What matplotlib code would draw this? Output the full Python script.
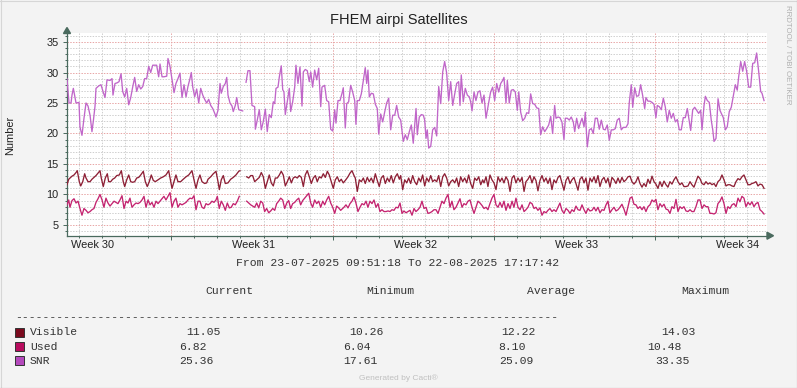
import numpy as np
import matplotlib
matplotlib.use('Agg')
import matplotlib.pyplot as plt
from matplotlib.ticker import MultipleLocator, FixedLocator, NullFormatter
from matplotlib.patches import Rectangle, Polygon
from matplotlib.lines import Line2D
from matplotlib.transforms import blended_transform_factory


# hours since 23-07-2025 09:51:18
snr_hours = [
    0, 1.0, 2.1, 4.2, 5.2, 6.6, 8.3, 9.4, 12.5, 13.5,
    15.6, 17.7, 19.8, 21.9, 24.0, 26.0, 27.4, 29.2, 30.2, 33.0,
    35.4, 37.5, 39.6, 41.7, 44.8, 46.9, 47.9, 50.0, 52.1, 54.2,
    56.3, 58.0, 60.1, 62.2, 64.3, 66.4, 68.4, 70.5, 72.6, 74.7,
    76.8, 78.9, 80.9, 83.0, 85.1, 87.2, 89.3, 91.4, 93.4, 95.5,
    96.9, 99.0, 101.0, 103.9, 105.2, 107.3, 109.4, 111.5, 113.5, 115.6,
    117.7, 119.8, 121.9, 124.0, 126.0, 128.1, 129.5, 130.9, 133.0, 135.1,
    137.2, 139.3, 141.4, 143.4, 145.5, 147.6, 149.7, 151.8, 153.9, 155.2,
    157.3, 159.4, 160.7, 162.8, 164.9, 166.4, 167.7, 169.8, 171.9, 173.2,
    175.3, 176.8, 178.9, 183.0, 184.8,
    186.5, 188.5, 190.6, 192.7, 195.5, 196.2, 198.2, 200.3, 202.4, 204.5,
    206.6, 208.6, 210.7, 212.8, 214.9, 216.4, 217.7, 219.8, 221.2, 223.2,
    224.7, 226.0, 227.4, 229.5, 231.6, 233.0, 235.1, 237.2, 238.5, 240.6,
    242.7, 244.8, 246.2, 248.2, 250.3, 252.4, 253.9, 255.9, 258.0, 260.1,
    262.2, 264.3, 265.6, 268.4, 270.5, 272.6, 274.7, 276.8, 278.9, 280.2,
    282.3, 284.4, 286.5, 287.8, 289.9, 291.4, 293.4, 295.5, 297.6, 299.7,
    301.0, 302.4, 304.5, 306.6, 308.7, 310.7, 312.2, 313.5, 314.9, 317.0,
    319.1, 321.2, 323.2, 324.7, 326.8, 328.9, 330.9, 333.0, 335.1, 337.2,
    339.3, 341.4, 343.4, 345.5, 347.6, 349.0, 350.3, 352.4, 354.5, 356.6,
    358.7, 360.7, 362.2, 363.6, 364.9, 367.0, 369.1, 371.2, 372.6, 374.0,
    375.3, 376.8, 378.9, 380.9, 383.0, 385.1, 387.2, 389.3, 391.4, 393.4,
    395.5, 397.6, 399.7, 401.8, 403.9, 405.9, 408.0, 409.4, 410.7, 412.8,
    414.9, 417.0, 419.1, 420.5, 421.9, 424.0, 426.0, 428.1, 430.2, 432.3,
    434.4, 436.5, 439.2, 441.3, 443.4, 445.5, 447.6, 449.7, 451.8, 453.8,
    455.2, 457.3, 458.7, 460.7, 462.8, 464.9, 467.0, 469.1, 470.6, 472.6,
    474.7, 476.8, 478.9, 481.0, 483.0, 485.1, 487.2, 489.3, 491.4, 493.4,
    495.5, 497.6, 499.7, 501.8, 503.9, 505.9, 508.0, 509.4, 511.5, 513.5,
    515.6, 517.7, 519.1, 521.2, 523.2, 525.3, 527.4, 528.9, 530.9, 533.0,
    535.1, 536.5, 538.6, 539.9, 542.0, 544.1, 546.2, 548.2, 550.3, 552.4,
    554.5, 556.6, 558.7, 560.7, 562.8, 564.9, 567.0, 569.1, 571.2, 573.2,
    575.3, 577.4, 579.5, 582.3, 584.4, 585.7, 587.8, 589.3, 591.4, 593.4,
    595.5, 597.6, 599.7, 601.8, 603.1, 605.2, 607.3, 609.4, 611.5, 613.5,
    614.9, 617.0, 619.1, 621.2, 623.3, 625.3, 627.4, 629.5, 631.6, 633.7,
    635.8, 637.8, 639.9, 642.0, 644.1, 646.2, 648.2, 649.7, 651.8, 653.9,
    656.0, 658.0, 660.1, 661.5, 663.6, 665.0, 667.0, 669.1, 671.2, 672.7,
    674.0, 676.1, 678.2, 680.2, 681.6, 683.7, 685.8, 687.8, 689.9, 692.0,
    694.1, 696.2, 698.2, 699.7, 701.8, 703.9, 705.9, 708.0, 710.1, 712.2,
    714.3, 716.4, 718.4, 720.5, 722.6, 724.0, 726.1]
snr_values = [
    29.0, 27.1, 25.0, 25.0, 26.3, 27.4, 26.0, 25.0, 25.1, 21.1,
    19.7, 22.5, 25.0, 24.5, 23.0, 20.3, 22.0, 24.5, 27.4, 27.8,
    28.0, 26.9, 25.9, 28.8, 28.7, 29.0, 26.3, 28.2, 28.3, 28.5,
    29.8, 26.9, 26.0, 27.4, 24.7, 25.9, 27.6, 29.2, 26.9, 28.0,
    27.3, 27.7, 29.0, 29.0, 31.0, 30.0, 31.2, 31.2, 31.2, 29.3,
    31.4, 29.3, 29.3, 29.4, 32.3, 31.0, 28.8, 26.7, 28.2, 29.0,
    29.9, 25.9, 28.0, 26.0, 27.7, 29.0, 30.0, 27.7, 26.0, 27.3,
    25.0, 27.4, 26.3, 25.6, 25.0, 25.6, 24.6, 24.1, 23.3, 22.7,
    23.8, 28.2, 26.6, 27.7, 28.2, 29.2, 26.3, 25.0, 24.5, 23.6,
    24.6, 25.9, 23.9, 23.7, np.nan,
    28.4, 30.3, 30.3, 24.6, 24.4, 20.7, 22.2, 23.9, 20.6, 22.0,
    24.0, 20.3, 23.1, 22.6, 25.2, 24.9, 27.4, 27.6, 29.3, 31.1,
    27.2, 26.8, 23.1, 25.2, 27.4, 23.6, 25.2, 27.6, 31.2, 28.2,
    30.9, 24.5, 30.1, 30.5, 30.3, 28.5, 30.1, 27.6, 30.4, 28.8,
    30.7, 24.4, 27.6, 27.9, 25.4, 25.2, 20.7, 20.4, 23.9, 21.7,
    25.4, 25.4, 26.6, 27.5, 20.9, 24.9, 25.2, 27.9, 26.8, 25.4,
    21.5, 25.4, 25.4, 26.5, 28.7, 30.8, 28.2, 30.4, 26.0, 26.6,
    26.5, 24.8, 24.1, 19.9, 23.2, 21.9, 23.5, 25.0, 25.8, 20.6,
    23.0, 23.0, 24.6, 22.7, 22.2, 20.4, 18.7, 19.8, 19.0, 20.3,
    21.4, 18.4, 21.4, 24.1, 19.8, 22.7, 23.1, 23.0, 22.2, 19.2,
    20.6, 17.6, 17.9, 20.6, 21.0, 19.6, 27.7, 24.9, 30.1, 31.8,
    29.9, 25.4, 28.5, 24.6, 26.5, 28.2, 28.5, 24.6, 29.6, 25.2,
    27.4, 26.3, 26.0, 25.2, 23.7, 26.8, 25.4, 26.8, 27.0, 25.0,
    26.3, 22.5, 25.0, 26.8, 27.6, 25.4, 28.2, 26.8, 28.2, 28.7,
    29.2, 25.0, 28.7, 25.0, 27.1, 27.2, 26.8, 23.8, 26.8, 23.5,
    22.1, 22.5, 23.4, 23.3, 26.5, 24.9, 24.8, 24.2, 24.1, 19.8,
    21.1, 20.3, 20.8, 21.4, 22.8, 20.0, 24.6, 22.5, 22.7, 22.6,
    21.9, 19.0, 22.5, 22.5, 22.2, 22.7, 21.9, 20.3, 22.5, 20.8,
    21.9, 22.5, 21.1, 23.5, 17.8, 20.6, 20.8, 20.0, 22.5, 22.5,
    20.7, 22.2, 20.7, 20.6, 21.4, 18.9, 20.6, 20.6, 20.8, 22.2,
    22.5, 20.6, 21.0, 21.0, 21.6, 25.0, 28.0, 24.3, 27.5, 26.1,
    26.2, 28.0, 26.2, 24.1, 25.9, 25.3, 25.3, 25.1, 24.8, 22.6,
    24.6, 24.4, 23.9, 25.8, 24.3, 21.9, 23.8, 22.5, 23.3, 21.9,
    22.3, 20.6, 20.6, 22.6, 22.6, 24.1, 22.1, 20.5, 23.9, 24.3,
    23.8, 23.3, 23.8, 20.6, 24.6, 26.1, 25.4, 25.1, 22.1, 20.6,
    18.7, 19.2, 25.7, 23.8, 23.3, 22.6, 20.6, 21.1, 23.6, 24.3,
    26.2, 28.0, 27.1, 29.3, 31.8, 30.2, 31.8, 30.2, 27.6, 27.6,
    31.5, 31.6, 33.2, 30.2, 26.9, 26.6, 25.4]

visible_hours = [
    0, 1.8, 5.2, 7.3, 9.4, 10.7, 12.8, 14.3, 16.4, 18.4,
    19.8, 21.9, 24.0, 26.0, 28.1, 30.2, 32.3, 34.4, 35.7, 37.8,
    39.9, 42.0, 43.4, 45.5, 47.6, 49.7, 51.8, 54.5, 56.6, 58.6,
    60.1, 62.2, 64.3, 66.4, 68.4, 70.5, 72.6, 74.7, 76.8, 79.5,
    81.6, 83.6, 85.7, 87.8, 89.9, 92.0, 94.8, 97.6, 100.3, 103.1,
    105.9, 108.0, 109.4, 111.5, 113.5, 115.6, 118.4, 121.1, 124.0, 126.8,
    130.2, 132.3, 134.4, 136.5, 138.5, 140.6, 143.4, 145.5, 146.9, 149.7,
    152.4, 155.2, 157.3, 158.7, 160.7, 162.8, 164.9, 167.7, 170.5, 173.2,
    176.0, 178.9, 180.2, 183.5,
    187.2, 189.3, 191.4, 193.4, 195.5, 197.6, 200.3, 202.4, 204.5, 206.6,
    208.6, 210.7, 212.8, 214.9, 217.0, 219.1, 221.2, 223.2, 225.3, 227.4,
    229.5, 231.6, 233.7, 235.7, 237.8, 239.9, 242.0, 244.1, 246.2, 248.2,
    250.3, 252.4, 254.5, 256.6, 258.7, 260.7, 262.8, 264.9, 267.0, 269.1,
    271.2, 273.2, 275.3, 277.4, 279.5, 281.6, 283.6, 285.7, 287.8, 289.9,
    292.7, 294.8, 296.9, 299.0, 300.3, 302.4, 304.5, 306.6, 308.7, 310.7,
    312.8, 314.9, 317.0, 319.1, 321.2, 323.2, 325.3, 327.4, 329.5, 331.6,
    333.7, 335.7, 337.8, 339.9, 342.0, 344.1, 346.2, 347.6, 349.7, 351.8,
    353.9, 355.9, 358.0, 360.1, 362.2, 364.3, 366.4, 368.4, 370.5, 372.6,
    374.7, 376.8, 378.9, 380.9, 383.0, 385.1, 387.2, 389.3, 391.4, 393.4,
    395.5, 397.6, 399.7, 401.8, 403.9, 405.9, 408.0, 410.1, 412.2, 414.3,
    416.4, 418.4, 420.5, 422.6, 424.7, 426.8, 428.9, 431.0, 433.0, 434.4,
    436.5, 438.5, 440.6, 442.7, 444.8, 446.9, 449.0, 451.1, 453.1, 455.2,
    457.3, 459.4, 461.5, 463.6, 465.6, 467.7, 469.8, 471.9, 474.0, 476.1,
    478.1, 480.2, 482.3, 484.4, 486.5, 488.5, 490.6, 492.7, 494.8, 496.9,
    499.0, 501.0, 503.1, 505.2, 507.3, 509.4, 511.5, 513.5, 515.6, 517.7,
    519.8, 521.9, 524.0, 526.0, 528.1, 530.2, 532.3, 534.4, 536.5, 538.6,
    540.6, 542.7, 544.8, 546.9, 549.0, 551.0, 553.1, 555.2, 557.3, 559.4,
    561.5, 563.5, 565.6, 567.7, 569.8, 571.9, 574.0, 576.0, 578.1, 580.2,
    582.3, 584.4, 586.5, 588.5, 590.6, 592.7, 594.8, 596.9, 599.0, 601.0,
    603.1, 605.2, 607.3, 609.4, 611.5, 613.5, 615.6, 617.7, 619.8, 621.9,
    624.0, 626.0, 628.1, 630.2, 632.3, 634.4, 636.5, 638.5, 640.6, 642.7,
    644.8, 646.9, 649.0, 651.0, 653.1, 655.2, 657.3, 659.4, 661.5, 663.6,
    665.6, 667.7, 669.8, 671.9, 674.0, 676.0, 678.1, 680.2, 682.3, 684.4,
    686.5, 688.5, 690.6, 692.7, 694.8, 696.9, 699.0, 701.0, 703.1, 705.2,
    707.3, 709.4, 711.5, 713.5, 715.6, 717.7, 719.8, 721.9, 724.0, 726.1]
visible_values = [
    11.6, 12.5, 13.0, 13.2, 13.6, 13.9, 12.1, 11.4, 12.1, 13.4,
    12.7, 12.1, 12.1, 12.5, 12.8, 13.1, 13.5, 13.9, 12.7, 11.3,
    12.7, 13.4, 12.1, 12.1, 12.5, 12.7, 13.1, 13.2, 13.9, 12.1,
    11.3, 12.4, 13.2, 12.1, 12.0, 12.1, 12.7, 12.8, 13.2, 13.8,
    12.1, 11.3, 12.1, 13.2, 12.3, 12.1, 12.4, 12.7, 12.9, 13.2,
    13.9, 12.1, 11.0, 12.1, 13.2, 12.1, 12.1, 12.5, 12.9, 13.2,
    13.9, 12.4, 11.0, 12.4, 13.2, 12.1, 11.8, 11.9, 12.5, 12.9,
    13.4, 13.8, 12.1, 10.8, 12.4, 13.1, 11.8, 11.9, 12.5, 12.8,
    13.2, 13.8, 13.9, np.nan,
    12.9, 12.7, 13.1, 13.1, 12.1, 12.4, 12.8, 13.6, 12.9, 11.0,
    12.1, 13.2, 11.9, 11.4, 12.7, 12.7, 13.2, 13.8, 13.2, 11.4,
    12.1, 12.9, 11.9, 12.7, 12.9, 12.7, 13.1, 12.8, 11.3, 13.2,
    13.9, 12.9, 11.8, 12.7, 13.1, 12.1, 12.9, 12.7, 13.4, 12.8,
    13.8, 13.2, 12.1, 11.0, 12.4, 12.9, 12.1, 12.5, 11.9, 12.3,
    12.9, 13.5, 13.9, 13.1, 12.7, 10.5, 12.4, 12.1, 12.7, 11.8,
    12.8, 12.1, 12.7, 11.9, 13.4, 12.3, 11.3, 12.7, 13.1, 11.8,
    12.7, 12.1, 13.1, 11.9, 12.9, 13.4, 12.5, 13.1, 10.8, 12.4,
    11.9, 12.7, 11.8, 13.1, 12.1, 11.6, 12.7, 12.1, 13.2, 11.4,
    12.7, 12.1, 13.1, 12.1, 12.4, 12.1, 13.1, 11.3, 12.9, 13.4,
    12.7, 11.4, 12.1, 12.4, 11.9, 12.7, 11.3, 12.9, 12.1, 12.7,
    11.9, 13.2, 11.8, 11.0, 12.7, 12.3, 12.9, 11.6, 12.4, 11.9,
    12.9, 11.3, 13.2, 12.4, 11.9, 10.8, 12.9, 12.1, 12.7, 11.9,
    12.9, 12.3, 10.5, 12.7, 13.1, 11.9, 12.7, 12.1, 12.8, 10.5,
    12.1, 12.5, 13.1, 11.9, 12.9, 12.3, 10.6, 12.3, 13.1, 12.1,
    12.7, 11.8, 12.7, 10.8, 12.4, 11.9, 12.8, 13.1, 11.9, 10.7,
    12.3, 12.9, 11.8, 12.4, 12.8, 11.8, 10.7, 12.5, 12.9, 11.9,
    12.7, 10.7, 12.7, 12.1, 12.9, 11.9, 13.1, 11.3, 12.4, 12.8,
    11.9, 12.7, 11.2, 12.8, 12.4, 11.8, 12.7, 11.9, 12.8, 12.1,
    12.4, 12.9, 13.0, 12.1, 11.7, 12.1, 12.9, 11.8, 11.2, 11.8,
    11.3, 12.5, 11.8, 13.0, 12.1, 11.7, 11.0, 12.1, 11.3, 12.2,
    11.6, 11.2, 12.1, 11.7, 12.4, 12.9, 12.1, 11.6, 11.9, 11.3,
    11.3, 11.4, 12.1, 11.6, 11.2, 12.1, 13.0, 12.6, 11.8, 11.6,
    12.1, 11.7, 11.9, 11.6, 11.8, 11.3, 12.1, 12.4, 13.2, 12.4,
    11.4, 11.6, 11.6, 11.4, 11.3, 12.1, 12.6, 12.4, 12.9, 13.2,
    12.4, 11.6, 11.6, 11.8, 11.9, 12.1, 11.4, 11.7, 11.6, 11.0]

used_hours = [
    0, 1.8, 3.1, 5.2, 7.3, 9.4, 11.5, 13.5, 15.6, 17.7,
    19.8, 21.9, 24.0, 26.0, 28.1, 30.2, 32.3, 34.4, 36.5, 38.5,
    40.6, 42.7, 44.8, 46.9, 49.0, 51.0, 53.1, 55.2, 57.3, 59.4,
    61.5, 63.5, 65.6, 67.7, 69.8, 71.9, 74.0, 76.0, 78.1, 80.2,
    82.3, 84.4, 86.5, 88.5, 90.6, 92.7, 94.8, 96.9, 99.0, 101.0,
    103.1, 105.2, 107.3, 109.4, 111.5, 113.5, 115.6, 117.7, 119.8, 121.9,
    124.0, 126.0, 128.1, 130.2, 132.3, 134.4, 136.5, 138.5, 140.6, 142.7,
    144.8, 146.9, 149.0, 151.0, 153.1, 155.2, 156.6, 158.6, 160.7, 162.8,
    164.9, 167.0, 169.1, 171.1, 173.2, 175.3, 177.4, 179.5, 183.5,
    187.2, 189.3, 191.4, 193.4, 195.5, 197.6, 199.7, 201.8, 203.9, 205.9,
    208.0, 210.1, 212.2, 214.3, 216.4, 218.4, 220.5, 222.6, 224.7, 226.8,
    228.9, 230.9, 233.0, 235.1, 237.2, 239.3, 241.4, 243.4, 245.5, 247.6,
    249.7, 251.8, 253.9, 255.9, 258.0, 260.1, 262.2, 264.3, 266.4, 268.4,
    270.5, 272.6, 274.7, 276.8, 278.9, 280.9, 283.0, 285.1, 287.2, 288.5,
    290.6, 292.7, 294.8, 296.9, 299.0, 301.0, 303.1, 305.2, 307.3, 309.4,
    311.5, 313.5, 315.6, 317.7, 319.8, 321.9, 324.0, 326.0, 328.1, 330.2,
    332.3, 334.4, 336.5, 338.5, 340.6, 342.7, 344.8, 346.9, 349.0, 351.0,
    353.1, 355.2, 357.3, 359.4, 361.5, 363.5, 365.6, 367.7, 369.8, 371.9,
    374.0, 376.0, 378.1, 380.2, 382.3, 384.4, 386.5, 388.5, 390.6, 392.7,
    394.8, 396.9, 399.0, 401.0, 403.1, 405.2, 407.3, 409.4, 411.5, 413.5,
    415.6, 417.7, 419.8, 421.9, 424.0, 426.0, 428.1, 430.2, 432.3, 434.4,
    436.5, 438.5, 440.6, 442.7, 444.8, 446.9, 449.0, 451.1, 453.1, 455.2,
    457.3, 459.4, 461.5, 463.6, 465.6, 467.7, 469.8, 471.9, 474.0, 476.1,
    478.1, 480.2, 482.3, 484.4, 486.5, 488.5, 490.6, 492.7, 494.8, 496.9,
    499.0, 501.0, 503.1, 505.2, 507.3, 509.4, 511.5, 513.5, 515.6, 517.7,
    519.8, 521.9, 524.0, 526.0, 528.1, 530.2, 532.3, 534.4, 536.5, 538.6,
    540.6, 542.7, 544.8, 546.9, 549.0, 551.0, 553.1, 555.2, 557.3, 559.4,
    561.5, 563.5, 565.6, 567.7, 569.8, 571.9, 574.0, 576.0, 578.1, 580.2,
    582.3, 584.4, 586.5, 588.5, 590.6, 592.7, 594.8, 596.9, 599.0, 601.0,
    603.1, 605.2, 607.3, 609.4, 611.5, 613.5, 615.6, 617.7, 619.8, 621.9,
    624.0, 626.0, 628.1, 630.2, 632.3, 634.4, 636.5, 638.5, 640.6, 642.7,
    644.8, 646.9, 649.0, 651.0, 653.1, 655.2, 657.3, 659.4, 661.5, 663.6,
    665.6, 667.7, 669.8, 671.9, 674.0, 676.0, 678.1, 680.2, 682.3, 684.4,
    686.5, 688.5, 690.6, 692.7, 694.8, 696.9, 699.0, 701.0, 703.1, 705.2,
    707.3, 709.4, 711.5, 713.5, 715.6, 717.7, 719.8, 721.9, 724.0, 726.1]
used_values = [
    8.3, 9.1, 7.9, 9.0, 9.3, 8.6, 8.9, 7.7, 6.6, 7.7,
    7.4, 7.0, 7.2, 7.5, 7.7, 8.7, 9.3, 10.0, 9.1, 7.9,
    9.4, 8.6, 8.1, 8.5, 8.9, 8.7, 8.5, 9.1, 9.8, 7.7,
    8.9, 8.6, 9.4, 7.9, 8.3, 8.6, 8.5, 8.7, 9.1, 9.7,
    7.9, 9.1, 8.3, 8.7, 7.9, 8.9, 8.5, 8.9, 9.3, 9.7,
    9.1, 9.7, 10.3, 7.9, 8.9, 9.4, 7.9, 8.5, 8.3, 8.5,
    8.7, 9.1, 9.4, 9.3, 9.8, 7.5, 8.9, 8.9, 7.9, 7.7,
    8.5, 8.3, 8.5, 8.9, 8.7, 9.1, 9.7, 7.7, 8.9, 8.3,
    7.4, 8.6, 7.8, 7.9, 8.5, 8.3, 8.9, 9.7, np.nan,
    8.9, 8.6, 8.3, 8.1, 7.9, 8.6, 7.8, 8.9, 8.6, 7.2,
    7.7, 7.0, 7.3, 7.7, 7.4, 8.5, 8.9, 9.4, 9.1, 7.7,
    8.6, 9.0, 7.7, 8.5, 8.7, 9.1, 9.4, 8.3, 9.0, 9.4,
    9.8, 10.2, 8.6, 7.9, 9.1, 8.5, 8.9, 7.9, 8.9, 8.3,
    9.1, 9.7, 8.6, 7.9, 6.9, 8.1, 7.8, 7.4, 7.7, 7.9,
    8.3, 7.8, 8.5, 8.9, 9.6, 8.6, 7.2, 7.9, 8.5, 8.3,
    8.9, 7.9, 8.9, 8.5, 9.1, 7.9, 8.5, 7.2, 7.5, 7.2,
    7.2, 7.3, 7.2, 7.5, 7.4, 7.9, 7.8, 8.6, 6.9, 7.3,
    7.0, 7.2, 7.4, 6.6, 7.7, 7.2, 7.5, 7.9, 8.9, 7.7,
    7.9, 6.9, 7.0, 7.2, 7.5, 7.5, 6.9, 7.9, 8.9, 8.5,
    9.4, 10.0, 7.9, 8.9, 7.5, 7.9, 8.6, 9.3, 7.9, 8.5,
    8.3, 8.9, 9.1, 7.9, 6.9, 7.9, 8.9, 8.6, 8.2, 7.7,
    7.9, 7.5, 8.5, 9.4, 10.0, 8.3, 7.9, 8.7, 7.9, 8.9,
    7.4, 8.5, 7.7, 8.9, 7.9, 9.4, 7.9, 7.5, 8.3, 7.2,
    7.5, 7.9, 8.7, 8.5, 7.7, 7.9, 7.4, 7.8, 6.6, 7.2,
    7.0, 7.4, 7.7, 7.2, 7.5, 7.2, 7.9, 8.6, 7.4, 6.9,
    7.7, 7.4, 6.9, 7.5, 7.2, 8.1, 7.5, 7.4, 8.3, 7.5,
    6.9, 7.7, 7.3, 7.4, 7.9, 7.3, 7.9, 7.0, 7.5, 7.4,
    8.3, 8.9, 7.0, 7.5, 7.9, 7.3, 7.5, 7.9, 8.4, 7.6,
    6.6, 8.0, 9.4, 9.6, 8.4, 8.3, 7.7, 8.0, 7.5, 8.0,
    7.2, 8.0, 8.3, 9.1, 8.8, 9.2, 7.5, 8.5, 8.0, 8.4,
    7.6, 7.5, 6.9, 8.0, 7.7, 9.2, 7.2, 8.0, 7.7, 8.0,
    7.3, 7.2, 7.5, 7.2, 7.2, 8.0, 9.1, 9.1, 7.7, 8.3,
    8.0, 8.0, 6.9, 6.9, 6.8, 7.0, 8.5, 8.9, 9.6, 8.5,
    6.9, 8.0, 7.7, 8.3, 8.5, 8.0, 9.4, 8.8, 9.7, 9.4,
    8.0, 8.7, 8.3, 8.8, 8.0, 8.5, 8.7, 7.5, 7.2, 6.8]

series_names = ['Visible', 'Used', 'SNR']
series_colors = ['#8e2036', '#c42470', '#c066c9']
legend_colors = ['#7a0a1e', '#b80c5e', '#b449bc']
stat_current = ['11.05', '6.82', '25.36']
stat_minimum = ['10.26', '6.04', '17.61']
stat_average = ['12.22', '8.10', '25.09']
stat_maximum = ['14.03', '10.48', '33.35']

week_labels = ['Week 30', 'Week 31', 'Week 32', 'Week 33', 'Week 34']
week_label_hours = [26.6, 194.6, 362.6, 530.6, 698.6]
week_start_hours = [108.7, 276.7, 444.7, 612.7]

period_text = 'From 23-07-2025 09:51:18 To 22-08-2025 17:17:42'


W, H = 797, 388
def fx(x):
    return x / W
def fy(y):
    return 1 - y / H

axis_col = '#4a6a5e'
txt_col = '#333333'
mono = 'Liberation Mono'
sans = 'Liberation Sans'

fig = plt.figure(figsize=(W / 100, H / 100), dpi=100, facecolor='#f3f3f3')

top_px, bot_px, left_px, right_px = 33, 235.7, 67, 767
ax = fig.add_axes([fx(left_px), fy(bot_px), (right_px - left_px) / W, (bot_px - top_px) / H])
ax.set_facecolor('white')
ax.set_xlim(0, 729.2)
ax.set_ylim(3.24, 36.48)

ax.yaxis.set_major_locator(MultipleLocator(5))
ax.yaxis.set_minor_locator(MultipleLocator(1))
ax.xaxis.set_major_locator(FixedLocator(week_start_hours))
ax.xaxis.set_minor_locator(MultipleLocator(24, offset=12.7))
ax.xaxis.set_major_formatter(NullFormatter())

ax.grid(which='minor', color='#cfcfcf', linestyle=(0, (1.4, 1.4)), linewidth=0.72, zorder=0)
ax.grid(which='major', color='#e8a6a6', linestyle=(0, (1.4, 1.4)), linewidth=0.72, zorder=0)
ax.set_axisbelow(True)

for s in ['top', 'right']:
    ax.spines[s].set_visible(False)
for s in ['left', 'bottom']:
    ax.spines[s].set_color(axis_col)
    ax.spines[s].set_linewidth(0.9)

ax.tick_params(which='both', direction='out', color=axis_col, width=0.7)
ax.tick_params(which='major', length=2.9, pad=3, labelsize=7.9, labelcolor='#222222')
ax.tick_params(which='minor', length=1.5)
for lab in ax.get_yticklabels():
    lab.set_family(sans)

# week labels sit between the week lines
tr = blended_transform_factory(ax.transData, ax.transAxes)
for h, lab in zip(week_label_hours, week_labels):
    ax.text(h, -0.046, lab, transform=tr, ha='center', va='center',
            fontsize=7.9, family=sans, color='#222222')

series = [(visible_hours, visible_values), (used_hours, used_values), (snr_hours, snr_values)]
for (hh, vv), col in zip(series, series_colors):
    ax.plot(hh, vv, color=col, linewidth=0.95, zorder=3)

# axis arrows
fig.patches.append(Polygon([(fx(67), fy(27.5)), (fx(63.5), fy(33.5)), (fx(70.5), fy(33.5))],
                           closed=True, transform=fig.transFigure, color=axis_col))
fig.patches.append(Polygon([(fx(773.5), fy(235.7)), (fx(767), fy(232.2)), (fx(767), fy(239.2))],
                           closed=True, transform=fig.transFigure, color=axis_col))

fig.text(fx(398.5), fy(20), 'FHEM airpi Satellites', ha='center', va='center',
         fontsize=10.5, family=sans, color='#222222')
fig.text(fx(10), fy(135), 'Number', rotation=90, ha='center', va='center',
         fontsize=7.9, family=sans, color='#222222')
fig.text(fx(788), fy(5), 'RRDTOOL / TOBI OETIKER', rotation=270, ha='center', va='top',
         fontsize=5.7, family=sans, color='#b0b0b0')

# legend / statistics block
fs = 8.2
fig.text(fx(398), fy(263), period_text, ha='center', va='center', fontsize=fs, family=mono, color=txt_col)
for x, lab in zip([205, 366, 527, 681], ['Current', 'Minimum', 'Average', 'Maximum']):
    fig.text(fx(x), fy(290.7), lab, ha='left', va='center', fontsize=fs, family=mono, color=txt_col)
fig.text(fx(15), fy(317), '-' * 79, ha='left', va='center', fontsize=fs, family=mono, color=txt_col)

row_y = [332.3, 346.7, 360.7]
cur_x = [186, 179, 179]
min_x = [349, 343, 343]
avg_x = [501.7, 498.7, 498.7]
max_x = [661, 647.7, 655]
for i, name in enumerate(series_names):
    y = row_y[i]
    fig.patches.append(Rectangle((fx(15), fy(y + 4.5)), 9 / W, 9 / H, transform=fig.transFigure,
                                 facecolor=legend_colors[i], edgecolor='#333333', linewidth=0.7))
    fig.text(fx(30), fy(y), name, ha='left', va='center', fontsize=fs, family=mono, color=txt_col)
    for xs, vals in [(cur_x, stat_current), (min_x, stat_minimum), (avg_x, stat_average), (max_x, stat_maximum)]:
        fig.text(fx(xs[i]), fy(y), vals[i], ha='left', va='center', fontsize=fs, family=mono, color=txt_col)

fig.text(fx(398), fy(378), 'Generated by Cacti\u00ae', ha='center', va='center',
         fontsize=6, family=sans, color='#c0c0c0')

# frame round the picture
fig.add_artist(Line2D([0, 1], [fy(0.5), fy(0.5)], transform=fig.transFigure, color='#d6d6d6', linewidth=0.8))
fig.add_artist(Line2D([fx(0.5), fx(0.5)], [0, 1], transform=fig.transFigure, color='#d6d6d6', linewidth=0.8))
fig.add_artist(Line2D([0, 1], [fy(387.5), fy(387.5)], transform=fig.transFigure, color='#8a8a8a', linewidth=0.8))
fig.add_artist(Line2D([fx(796.5), fx(796.5)], [0, 1], transform=fig.transFigure, color='#8a8a8a', linewidth=0.8))

fig.savefig('out.png', dpi=100, facecolor=fig.get_facecolor())
